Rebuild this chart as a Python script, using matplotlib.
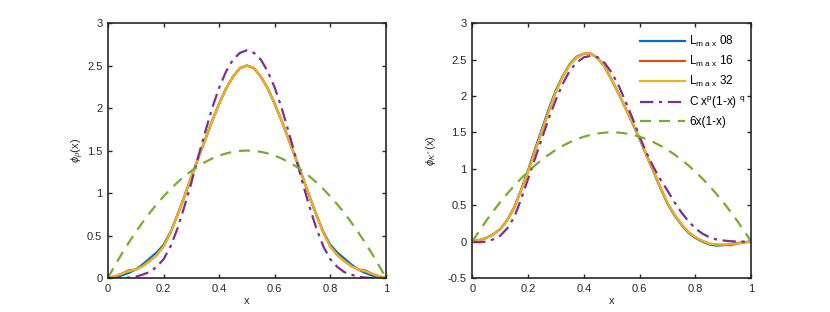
import numpy as np
from matplotlib import pyplot as plt

plt.rcParams['font.family'] = ['Liberation Sans', 'DejaVu Sans']
plt.rcParams['mathtext.fontset'] = 'custom'
plt.rcParams['mathtext.rm'] = 'Liberation Sans'
plt.rcParams['mathtext.it'] = 'Liberation Sans:italic'

# x grid for all curves
x = np.linspace(0, 1, 41)

# left panel: phi_rho(x)
rho_L08 = [0, 0.01, 0.03, 0.06, 0.1, 0.16, 0.23, 0.3, 0.39, 0.54, 0.74, 0.96, 1.19, 1.41, 1.63, 1.85, 2.05, 2.23, 2.37, 2.47, 2.5,
           2.47, 2.37, 2.23, 2.05, 1.85, 1.63, 1.41, 1.19, 0.96, 0.74, 0.54, 0.39, 0.3, 0.23, 0.16, 0.1, 0.06, 0.03, 0.01, 0]
rho_L16 = [0, 0.02, 0.05, 0.09, 0.1, 0.14, 0.2, 0.27, 0.37, 0.53, 0.74, 0.96, 1.19, 1.41, 1.63, 1.85, 2.05, 2.23, 2.37, 2.47, 2.5,
           2.47, 2.37, 2.23, 2.05, 1.85, 1.63, 1.41, 1.19, 0.96, 0.74, 0.53, 0.37, 0.27, 0.2, 0.14, 0.1, 0.09, 0.05, 0.02, 0]
rho_L32 = [0, 0.02, 0.05, 0.08, 0.1, 0.14, 0.2, 0.27, 0.37, 0.53, 0.74, 0.96, 1.19, 1.41, 1.63, 1.85, 2.05, 2.23, 2.37, 2.47, 2.5,
           2.47, 2.37, 2.23, 2.05, 1.85, 1.63, 1.41, 1.19, 0.96, 0.74, 0.53, 0.37, 0.27, 0.2, 0.14, 0.1, 0.08, 0.05, 0.02, 0]
rho_fit = [0, 0, 0, 0.005, 0.015, 0.04, 0.07, 0.13, 0.22, 0.37, 0.58, 0.84, 1.12, 1.43, 1.72, 2.0, 2.24, 2.43, 2.57, 2.65, 2.68,
           2.65, 2.57, 2.43, 2.24, 2.0, 1.72, 1.43, 1.12, 0.84, 0.58, 0.37, 0.22, 0.13, 0.07, 0.04, 0.015, 0.005, 0, 0, 0]

# right panel: phi_K*(x)
kst_L08 = [0, 0.02, 0.05, 0.1, 0.17, 0.29, 0.47, 0.71, 0.98, 1.27, 1.55, 1.83, 2.08, 2.28, 2.44, 2.54, 2.58, 2.58, 2.52, 2.4, 2.22,
           2.03, 1.83, 1.62, 1.41, 1.18, 0.96, 0.73, 0.52, 0.36, 0.23, 0.12, 0.05, 0.0, -0.04, -0.055, -0.05, -0.035, -0.02, -0.01, 0]
kst_L16 = [0, 0.02, 0.05, 0.1, 0.17, 0.29, 0.46, 0.7, 0.96, 1.24, 1.52, 1.8, 2.06, 2.27, 2.43, 2.53, 2.58, 2.58, 2.52, 2.4, 2.22,
           2.03, 1.83, 1.63, 1.42, 1.19, 0.97, 0.74, 0.53, 0.37, 0.24, 0.13, 0.06, 0.01, -0.03, -0.04, -0.045, -0.05, -0.03, -0.01, 0]
kst_L32 = [0, 0.02, 0.05, 0.1, 0.17, 0.29, 0.46, 0.7, 0.96, 1.24, 1.52, 1.8, 2.06, 2.27, 2.43, 2.53, 2.58, 2.58, 2.52, 2.4, 2.22,
           2.03, 1.83, 1.63, 1.42, 1.19, 0.97, 0.74, 0.53, 0.37, 0.24, 0.13, 0.06, 0.01, -0.03, -0.04, -0.04, -0.035, -0.025, -0.01, 0]
kst_fit = [0, -0.01, 0.0, 0.03, 0.08, 0.18, 0.33, 0.58, 0.86, 1.14, 1.42, 1.7, 1.95, 2.17, 2.35, 2.46, 2.53, 2.55, 2.53, 2.45, 2.32,
           2.14, 1.92, 1.69, 1.44, 1.22, 1.02, 0.85, 0.7, 0.54, 0.4, 0.28, 0.18, 0.11, 0.06, 0.03, 0.015, 0.005, 0, 0, 0]

# 6x(1-x)
asym = [0, 0.146, 0.285, 0.416, 0.54, 0.656, 0.765, 0.866, 0.96, 1.046, 1.125, 1.196, 1.26, 1.316, 1.365, 1.406, 1.44, 1.466, 1.485, 1.496, 1.5,
        1.496, 1.485, 1.466, 1.44, 1.406, 1.365, 1.316, 1.26, 1.196, 1.125, 1.046, 0.96, 0.866, 0.765, 0.656, 0.54, 0.416, 0.285, 0.146, 0]

labels = ['L$_{\\rm m\\ a\\ x}$ 08', 'L$_{\\rm m\\ a\\ x}$ 16', 'L$_{\\rm m\\ a\\ x}$ 32',
          'C x$^{\\rm p}$(1-x) $^{\\rm q}$', '6x(1-x)']
colors = ['#0072BD', '#D95319', '#EDB120', '#7E2F8E', '#77AC30']

fig = plt.figure(figsize=(8.3, 3.12), dpi=100)
ax1 = fig.add_axes([0.130, 0.109, 0.335, 0.817])
ax2 = fig.add_axes([0.569, 0.109, 0.336, 0.817])


def draw(ax, curves):
    for y, c, lab in zip(curves[:3], colors[:3], labels[:3]):
        ax.plot(x, y, color=c, lw=1.6, label=lab)
    ax.plot(x, curves[3], color=colors[3], lw=1.6, ls=(0, (6, 2.5, 1.5, 2.5)), label=labels[3])
    ax.plot(x, asym, color=colors[4], lw=1.6, ls=(0, (5, 3.5)), label=labels[4])
    ax.set_xlim(0, 1)
    ax.set_xticks(np.arange(0, 1.01, 0.2))
    ax.set_xticklabels(['0', '0.2', '0.4', '0.6', '0.8', '1'])
    ax.tick_params(direction='in', top=True, right=True, length=3, width=1, labelsize=8, colors='#262626', pad=4)
    for s in ax.spines.values():
        s.set_linewidth(1.2)
        s.set_color('#262626')
    ax.set_xlabel('x', fontsize=8, color='#262626', labelpad=2)


draw(ax1, [rho_L08, rho_L16, rho_L32, rho_fit])
ax1.set_ylim(0, 3)
ax1.set_yticks(np.arange(0, 3.01, 0.5))
ax1.set_yticklabels(['0', '0.5', '1', '1.5', '2', '2.5', '3'])
ax1.set_ylabel('$\\phi_{\\rho}$(x)', fontsize=8, color='#262626', labelpad=1)

draw(ax2, [kst_L08, kst_L16, kst_L32, kst_fit])
ax2.set_ylim(-0.5, 3)
ax2.set_yticks(np.arange(-0.5, 3.01, 0.5))
ax2.set_yticklabels(['-0.5', '0', '0.5', '1', '1.5', '2', '2.5', '3'])
ax2.set_ylabel('$\\phi_{K^*}$(x)', fontsize=8, color='#262626', labelpad=7)
ax2.legend(loc='upper right', frameon=False, fontsize=8.5, handlelength=3.8, handletextpad=0.4,
           labelspacing=0.42, borderaxespad=0.3, bbox_to_anchor=(1.01, 0.99))

plt.savefig('out.png', dpi=100)
